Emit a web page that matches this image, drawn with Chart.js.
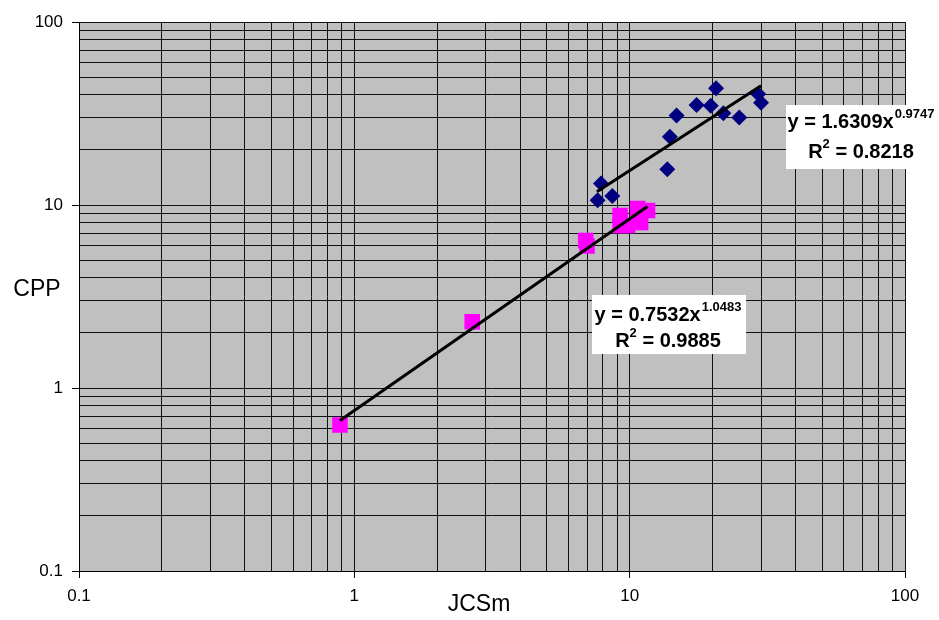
<!DOCTYPE html>
<html>
<head>
<meta charset="utf-8">
<script src="https://cdn.jsdelivr.net/npm/chart.js@4.4.1/dist/chart.umd.min.js"></script>
<style>
  body { margin: 0; background: #fff; }
  #chart { display: block; }
</style>
</head>
<body>
<canvas id="chart" width="939" height="620"></canvas>
<script>
// blue diamonds
const blueX = [20.6, 17.5, 19.7, 21.9, 25.0, 29.3, 30.0, 14.8, 14.0, 13.7, 7.87, 7.65, 8.65];
const blueY = [43.4, 35.2, 34.9, 31.7, 30.1, 40.4, 36.2, 30.8, 23.6, 15.7, 13.1, 10.6, 11.2];

// pink squares
const pinkX = [0.887, 2.68, 6.92, 7.0, 9.23, 9.23, 9.83, 10.96, 10.69, 11.61];
const pinkY = [0.628, 2.30, 6.40, 5.97, 8.76, 7.72, 7.72, 8.02, 9.57, 9.33];

// power trend lines (end points, straight on log-log)
const blueFitX = [7.6, 30];
const blueFitY = [11.8, 44.9];
const pinkFitX = [0.887, 11.6];
const pinkFitY = [0.664, 9.8];

// trend equations
const fitCoef = ['0.7532', '1.6309'];
const fitExp = ['1.0483', '0.9747'];
const fitR2 = ['0.9885', '0.8218'];

// axis grid / labels
const gridValues = [0.1, 0.2, 0.3, 0.4, 0.5, 0.6, 0.7, 0.8, 0.9,
  1, 2, 3, 4, 5, 6, 7, 8, 9, 10, 20, 30, 40, 50, 60, 70, 80, 90, 100];
const tickLabels = [0.1, 1, 10, 100];

const FONT = '"Liberation Sans", Arial, sans-serif';

function toPoints(xs, ys) {
    return xs.map((x, i) => ({ x: x, y: ys[i] }));
}

// where the equation boxes sit
const fitBoxes = [
    { x: 592, y: 295, w: 154, h: 59, cx: 668, b1: 321, b2: 347 },
    { x: 786, y: 105, w: 153, h: 64, cx: 861, b1: 128, b2: 158 }
];

function drawFitBox(ctx, box, coef, exp, r2) {
    ctx.fillStyle = '#fff';
    ctx.fillRect(box.x, box.y, box.w, box.h);
    ctx.fillStyle = '#000';
    ctx.textAlign = 'left';
    ctx.textBaseline = 'alphabetic';

    const big = 'bold 20px ' + FONT;
    const small = 'bold 13px ' + FONT;

    // line 1: y = a x^b
    const main = 'y = ' + coef + 'x';
    ctx.font = big;
    const w1 = ctx.measureText(main).width;
    ctx.font = small;
    const w2 = ctx.measureText(exp).width;
    let x = box.cx - (w1 + w2 + 1) / 2;
    ctx.font = big;
    ctx.fillText(main, x, box.b1);
    ctx.font = small;
    ctx.fillText(exp, x + w1 + 1, box.b1 - 10);

    // line 2: R^2 = ...
    const rest = ' = ' + r2;
    ctx.font = big;
    const wr = ctx.measureText('R').width;
    const wrest = ctx.measureText(rest).width;
    ctx.font = small;
    const w2b = ctx.measureText('2').width;
    x = box.cx - (wr + w2b + wrest) / 2;
    ctx.font = big;
    ctx.fillText('R', x, box.b2);
    ctx.font = small;
    ctx.fillText('2', x + wr, box.b2 - 10);
    ctx.font = big;
    ctx.fillText(rest, x + wr + w2b, box.b2);
}

const overlay = {
    id: 'overlay',
    beforeDraw(chart) {
        const ctx = chart.ctx;
        const a = chart.chartArea;
        ctx.save();
        ctx.fillStyle = '#c0c0c0';
        ctx.fillRect(a.left, a.top, a.right - a.left, a.bottom - a.top);
        ctx.restore();
    },
    afterDatasetsDraw(chart) {
        const ctx = chart.ctx;
        ctx.save();
        fitBoxes.forEach((b, i) => drawFitBox(ctx, b, fitCoef[i], fitExp[i], fitR2[i]));
        ctx.restore();
    },
    afterDraw(chart) {
        const ctx = chart.ctx;
        ctx.save();
        ctx.fillStyle = '#000';
        ctx.font = '23px ' + FONT;
        ctx.textAlign = 'center';
        ctx.textBaseline = 'middle';
        ctx.fillText('JCSm', 479, 605);
        ctx.fillText('CPP', 37, 290);
        ctx.restore();
    }
};

function logAxis(pad, fit) {
    return {
        type: 'logarithmic',
        min: 0.1,
        max: 100,
        afterBuildTicks: s => { s.ticks = gridValues.map(v => ({ value: v })); },
        afterFit: fit,
        ticks: {
            autoSkip: false,
            maxRotation: 0,
            padding: pad,
            color: '#000',
            font: { size: 17, family: FONT },
            callback: v => tickLabels.includes(v) ? String(v) : ''
        },
        grid: {
            color: '#111',
            lineWidth: 1,
            tickLength: 7,
            tickColor: c => (c.tick && tickLabels.includes(c.tick.value)) ? '#000' : 'rgba(0,0,0,0)'
        },
        border: { color: '#000', width: 1 }
    };
}

new Chart(document.getElementById('chart').getContext('2d'), {
    type: 'scatter',
    data: {
        datasets: [
            {
                data: toPoints(blueFitX, blueFitY),
                showLine: true,
                borderColor: '#000',
                borderWidth: 3,
                pointRadius: 0,
                order: 0
            },
            {
                data: toPoints(pinkFitX, pinkFitY),
                showLine: true,
                borderColor: '#000',
                borderWidth: 3,
                pointRadius: 0,
                order: 0
            },
            {
                data: toPoints(pinkX, pinkY),
                pointStyle: 'rect',
                pointRadius: 11,
                backgroundColor: '#ff00ff',
                borderColor: '#ff00ff',
                borderWidth: 0,
                order: 1
            },
            {
                data: toPoints(blueX, blueY),
                pointStyle: 'rectRot',
                pointRadius: 8,
                backgroundColor: '#000080',
                borderColor: '#000080',
                borderWidth: 0,
                order: 2
            }
        ]
    },
    options: {
        responsive: false,
        devicePixelRatio: 1,
        animation: false,
        events: [],
        layout: { padding: { top: 22, right: 34, left: 0, bottom: 0 } },
        plugins: { legend: { display: false }, tooltip: { enabled: false } },
        scales: {
            x: logAxis(8, s => { s.height = 49; }),
            y: logAxis(9, s => { s.width = 79; })
        }
    },
    plugins: [overlay]
});
</script>
</body>
</html>
